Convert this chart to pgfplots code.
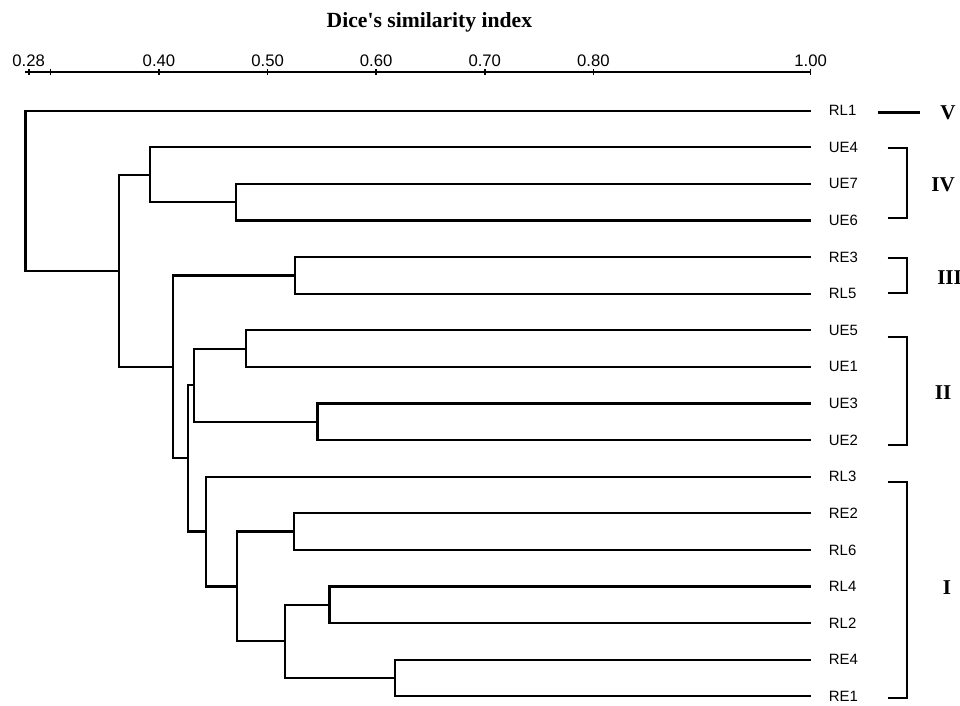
\documentclass[border=0pt]{standalone}
\usepackage{fontspec}
\setmainfont{Liberation Sans}
\newfontfamily\serif{Liberation Serif}
\usepackage{pgfplots}
\pgfplotsset{compat=1.18}
\begin{document}
\begin{tikzpicture}[grp/.style={font=\serif\bfseries\fontsize{12}{14}\selectfont}]
\begin{axis}[
    x=21.72cm, y=0.732cm,
    xmin=0.2765, xmax=1.0,
    ymin=-16.3, ymax=1.057,
    clip=false,
    axis x line*=top,
    hide y axis,
    axis line style={line width=1.1pt},
    xtick={0.28,0.30,0.40,0.50,0.60,0.70,0.80,1.00},
    xticklabels={0.28,,0.40,0.50,0.60,0.70,0.80,1.00},
    major tick length=3pt,
    tick align=center,
    tick style={line width=1pt, black},
    xticklabel style={font=\fontsize{9.5}{11}\selectfont, yshift=-1.8pt},
    /pgf/number format/assume math mode=true,
    seg/.style={black, line width=1.25pt, no markers, line join=miter},
    brk/.style={black, line width=1.2pt, no markers},
]
% dendrogram: (child1) (node,y1) (node,y2) (child2), y = -leaf index
\addplot[seg] coordinates {(1,-2) (0.471,-2) (0.471,-3) (1,-3)};
\addplot[seg] coordinates {(1,-1) (0.392,-1) (0.392,-2.5) (0.471,-2.5)};
\addplot[seg] coordinates {(1,-4) (0.525,-4) (0.525,-5) (1,-5)};
\addplot[seg] coordinates {(1,-6) (0.480,-6) (0.480,-7) (1,-7)};
\addplot[seg] coordinates {(1,-8) (0.546,-8) (0.546,-9) (1,-9)};
\addplot[seg] coordinates {(0.480,-6.5) (0.432,-6.5) (0.432,-8.5) (0.546,-8.5)};
\addplot[seg] coordinates {(1,-11) (0.524,-11) (0.524,-12) (1,-12)};
\addplot[seg] coordinates {(1,-13) (0.557,-13) (0.557,-14) (1,-14)};
\addplot[seg] coordinates {(1,-15) (0.617,-15) (0.617,-16) (1,-16)};
\addplot[seg] coordinates {(0.557,-13.5) (0.516,-13.5) (0.516,-15.5) (0.617,-15.5)};
\addplot[seg] coordinates {(0.524,-11.5) (0.472,-11.5) (0.472,-14.5) (0.516,-14.5)};
\addplot[seg] coordinates {(1,-10) (0.443,-10) (0.443,-13) (0.472,-13)};
\addplot[seg] coordinates {(0.432,-7.5) (0.427,-7.5) (0.427,-11.5) (0.443,-11.5)};
\addplot[seg] coordinates {(0.525,-4.5) (0.4126,-4.5) (0.4126,-9.5) (0.427,-9.5)};
\addplot[seg] coordinates {(0.392,-1.75) (0.363,-1.75) (0.363,-7) (0.4126,-7)};
\addplot[seg] coordinates {(1,0) (0.277,0) (0.277,-4.375) (0.363,-4.375)};
% leaf labels
\foreach \lab [count=\i from 0] in {RL1,UE4,UE7,UE6,RE3,RL5,UE5,UE1,UE3,UE2,RL3,RE2,RL6,RL4,RL2,RE4,RE1}{
  \edef\temp{\noexpand\node[anchor=west, inner sep=0pt, font=\noexpand\fontsize{8.5}{10}\noexpand\selectfont] at (axis cs:1.0166,-\i) {\lab};}
  \temp
}
% group brackets
\addplot[black, line width=1.7pt, no markers] coordinates {(1.062,-0.05) (1.1007,-0.05)};
\addplot[brk] coordinates {(1.071,-1.02) (1.0888,-1.02) (1.0888,-2.93) (1.071,-2.93)};
\addplot[brk] coordinates {(1.071,-4.02) (1.0888,-4.02) (1.0888,-4.98) (1.071,-4.98)};
\addplot[brk] coordinates {(1.071,-6.18) (1.0888,-6.18) (1.0888,-9.13) (1.071,-9.13)};
\addplot[brk] coordinates {(1.071,-10.15) (1.0888,-10.15) (1.0888,-16.05) (1.071,-16.05)};
\node[grp] at (axis cs:1.1265,-0.05) {V};
\node[grp] at (axis cs:1.122,-2.03) {IV};
\node[grp] at (axis cs:1.128,-4.57) {III};
\node[grp] at (axis cs:1.122,-7.69) {II};
\node[grp] at (axis cs:1.1256,-13.04) {I};
% title
\node[anchor=base, font=\serif\bfseries\fontsize{12.3}{14}\selectfont] at (axis cs:0.649,2.287) {Dice's similarity index};
\coordinate (bl) at (axis cs:0.2536,-16.265);
\coordinate (tr) at (axis cs:1.1376,3.025);
\end{axis}
\pgfresetboundingbox
\path[use as bounding box] (bl) rectangle (tr);
\end{tikzpicture}
\end{document}
